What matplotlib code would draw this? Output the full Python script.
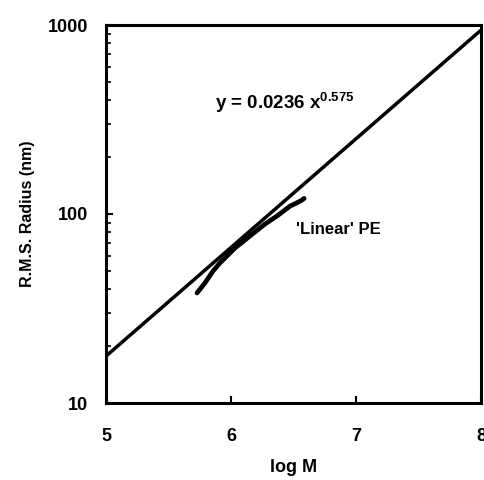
import matplotlib
matplotlib.use("Agg")
import matplotlib.pyplot as plt
import numpy as np

# Fitted power-law: y = a * M^b
fit_a = 0.0236
fit_b = 0.575
fit_logM = [5.0, 8.0]

# Measured 'Linear' PE data (log M, RMS radius nm)
pe_logM = [5.728, 5.792, 5.856, 5.912, 6.032, 6.152, 6.272, 6.368, 6.472, 6.52, 6.568, 6.585]
pe_radius = [38.2, 43.2, 49.9, 55.1, 66.1, 76.5, 88.5, 97.6, 110, 114, 118.5, 121]

x_ticks = [5, 6, 7, 8]
y_ticks = [10, 100, 1000]

plt.rcParams['font.family'] = ['Liberation Sans', 'DejaVu Sans']
plt.rcParams['font.weight'] = 'bold'
plt.rcParams['axes.labelweight'] = 'bold'
plt.rcParams['mathtext.fontset'] = 'custom'
plt.rcParams['mathtext.rm'] = 'Liberation Sans:bold'
plt.rcParams['mathtext.bf'] = 'Liberation Sans:bold'
plt.rcParams['mathtext.default'] = 'rm'

fig = plt.figure(figsize=(4.84, 4.80), dpi=100)
ax = fig.add_axes([106/484, 1-403/480, (481-106)/484, (403-25)/480])

fx = np.array(fit_logM)
fy = fit_a * (10.0 ** fx) ** fit_b
ax.plot(fx, fy, color='black', lw=2.5, solid_capstyle='butt')
ax.plot(pe_logM, pe_radius, color='black', lw=3.4, solid_capstyle='round')

ax.set_yscale('log')
ax.set_xlim(5, 8)
ax.set_ylim(10, 1000)
ax.set_xticks(x_ticks)
ax.set_xticklabels([str(t) for t in x_ticks])
ax.set_yticks(y_ticks)
ax.set_yticklabels([str(t) for t in y_ticks])

for s in ax.spines.values():
    s.set_linewidth(2.2)

ax.tick_params(axis='both', which='major', direction='in', length=5, width=1.5,
               labelsize=13, top=False, right=False)
ax.tick_params(axis='x', which='major', pad=18)
ax.tick_params(axis='y', which='major', pad=13)
ax.tick_params(axis='y', which='minor', direction='in', length=3.5, width=1.2, right=False)
ax.tick_params(axis='x', which='minor', bottom=False)

ax.set_xlabel('log M', fontsize=13, labelpad=10)
ax.set_ylabel('R.M.S. Radius (nm)', fontsize=11.5, labelpad=9)

ax.text(5.87, 385, r'y = 0.0236 x$^{0.575}$', fontsize=13.5, va='center', ha='left')
ax.text(6.52, 83, "'Linear' PE", fontsize=12, va='center', ha='left')

fig.savefig('out.png', dpi=100)
